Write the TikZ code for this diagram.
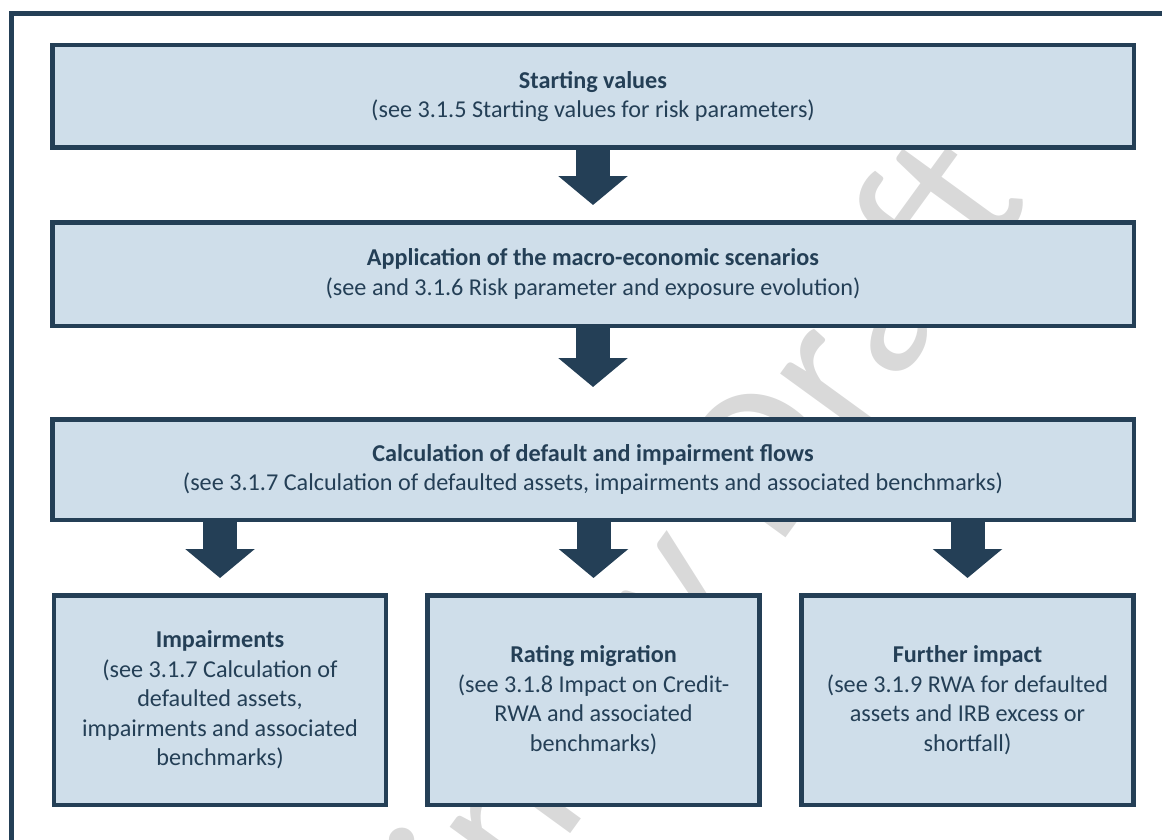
\documentclass[tikz,border=0pt]{standalone}
\usepackage{fontspec}
\setmainfont{Carlito}
\usetikzlibrary{arrows.meta}

\begin{document}
\begin{tikzpicture}[x=1pt, y=-1pt]
    \definecolor{borderColour}{HTML}{243F56}
    \definecolor{fillColour}{HTML}{CFDEEA}
    \definecolor{markColour}{HTML}{D9D9D9}
    \tikzset{
        stage/.style={draw=borderColour, fill=fillColour, line width=4.5pt, text=borderColour,
            align=center, inner sep=0pt, font=\fontsize{24.2}{29.5}\selectfont},
        wide/.style={stage, minimum width=1081.5pt},
        narrow/.style={stage, minimum width=332pt, minimum height=209.5pt},
        flow/.style={draw=borderColour, line width=34pt, -{Triangle[width=68pt, length=29pt]}}
    }

    \useasboundingbox (0,0) rectangle (1162,840);

    % Watermark behind everything
    \node[text=markColour, rotate=54, font=\fontsize{212}{212}\selectfont] (mark) at (555,760) {Preliminary Draft};

    % Outer frame
    \draw[borderColour, line width=5pt] (11,13.5) rectangle (1190,870);

    % Wide stages
    \node[wide, minimum height=102.5pt] (start) at (593,96.5)
        {\textbf{Starting values}\\(see 3.1.5 Starting values for risk parameters)};
    \node[wide, minimum height=103.5pt] (scen) at (593,274)
        {\textbf{Application of the macro-economic scenarios}\\(see and 3.1.6 Risk parameter and exposure evolution)};
    \node[wide, minimum height=100.5pt] (flows) at (593,469.5)
        {\textbf{Calculation of default and impairment flows}\\(see 3.1.7 Calculation of defaulted assets, impairments and associated benchmarks)};

    % Result stages
    \node[narrow] (imp) at (220,700)
        {\textbf{Impairments}\\(see 3.1.7 Calculation of\\defaulted assets,\\impairments and associated\\benchmarks)};
    \node[narrow] (rating) at (593.5,700)
        {\textbf{Rating migration}\\(see 3.1.8 Impact on Credit-\\RWA and associated\\benchmarks)};
    \node[narrow] (further) at (967.5,700)
        {\textbf{Further impact}\\(see 3.1.9 RWA for defaulted\\assets and IRB excess or\\shortfall)};

    % Block arrows
    \draw[flow] (start.south) -- ([yshift=15pt]scen.north);
    \draw[flow] (scen.south) -- ([yshift=30pt]flows.north);
    \draw[flow] (flows.south -| imp.north) -- ([yshift=15pt]imp.north);
    \draw[flow] (flows.south -| rating.north) -- ([yshift=15pt]rating.north);
    \draw[flow] (flows.south -| further.north) -- ([yshift=15pt]further.north);

\end{tikzpicture}
\end{document}
